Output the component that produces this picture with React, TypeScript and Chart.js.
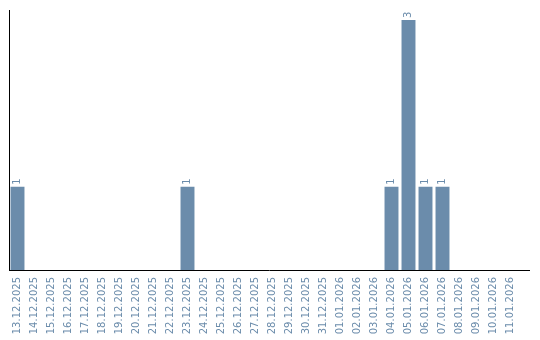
import React, { useEffect, useRef } from "react";
import { Chart, registerables } from "chart.js";

Chart.register(...registerables);

const categories: string[] = [
  "13.12.2025", "14.12.2025", "15.12.2025", "16.12.2025", "17.12.2025",
  "18.12.2025", "19.12.2025", "20.12.2025", "21.12.2025", "22.12.2025",
  "23.12.2025", "24.12.2025", "25.12.2025", "26.12.2025", "27.12.2025",
  "28.12.2025", "29.12.2025", "30.12.2025", "31.12.2025", "01.01.2026",
  "02.01.2026", "03.01.2026", "04.01.2026", "05.01.2026", "06.01.2026",
  "07.01.2026", "08.01.2026", "09.01.2026", "10.01.2026", "11.01.2026",
];

const values: number[] = [
  1, 0, 0, 0, 0, 0, 0, 0, 0, 0,
  1, 0, 0, 0, 0, 0, 0, 0, 0, 0,
  0, 0, 1, 3, 1, 1, 0, 0, 0, 0,
];

const BAR_COLOR = "#6b8cab";
const FONT = "'DejaVu Sans', sans-serif";

const axisLines = {
  id: "axisLines",
  afterDraw(chart: any) {
    const { ctx, chartArea } = chart;
    ctx.save();
    ctx.strokeStyle = "#000";
    ctx.lineWidth = 1;
    ctx.beginPath();
    ctx.moveTo(chartArea.left + 0.5, chartArea.top);
    ctx.lineTo(chartArea.left + 0.5, chartArea.bottom);
    ctx.moveTo(chartArea.left, chartArea.bottom + 0.5);
    ctx.lineTo(chartArea.right + 11, chartArea.bottom + 0.5);
    ctx.stroke();
    ctx.restore();
  },
};

const barLabels = {
  id: "barLabels",
  afterDatasetsDraw(chart: any) {
    const { ctx } = chart;
    const meta = chart.getDatasetMeta(0);
    const data = chart.data.datasets[0].data as number[];
    ctx.save();
    ctx.fillStyle = BAR_COLOR;
    ctx.font = `10px ${FONT}`;
    ctx.textAlign = "left";
    ctx.textBaseline = "middle";
    meta.data.forEach((bar: any, i: number) => {
      const v = data[i];
      if (!v) return;
      ctx.save();
      ctx.translate(bar.x, bar.y - 2);
      ctx.rotate(-Math.PI / 2);
      ctx.fillText(String(v), 0, 0);
      ctx.restore();
    });
    ctx.restore();
  },
};

export default function App() {
  const ref = useRef<HTMLCanvasElement>(null);

  useEffect(() => {
    document.body.style.margin = "0";
    const canvas = ref.current;
    if (!canvas) return;
    const chart = new Chart(canvas, {
      type: "bar",
      data: {
        labels: categories,
        datasets: [
          {
            data: values,
            backgroundColor: BAR_COLOR,
            borderWidth: 0,
            categoryPercentage: 1,
            barPercentage: 0.82,
          },
        ],
      },
      options: {
        animation: false,
        responsive: false,
        maintainAspectRatio: false,
        layout: { padding: { left: 9, right: 21, top: 10, bottom: 0 } },
        plugins: {
          legend: { display: false },
          tooltip: { enabled: false },
        },
        scales: {
          x: {
            grid: { display: false, drawTicks: false },
            border: { display: false },
            ticks: {
              autoSkip: false,
              minRotation: 90,
              maxRotation: 90,
              padding: 7,
              color: BAR_COLOR,
              font: { family: FONT, size: 10 },
            },
            afterFit(scale: any) {
              scale.height = 70;
            },
          },
          y: {
            display: false,
            min: 0,
            max: 3.12,
          },
        },
      },
      plugins: [axisLines, barLabels],
    });
    return () => chart.destroy();
  }, []);

  return (
    <div style={{ width: 540, height: 340 }}>
      <canvas ref={ref} width={540} height={340} style={{ width: 540, height: 340 }} />
    </div>
  );
}
